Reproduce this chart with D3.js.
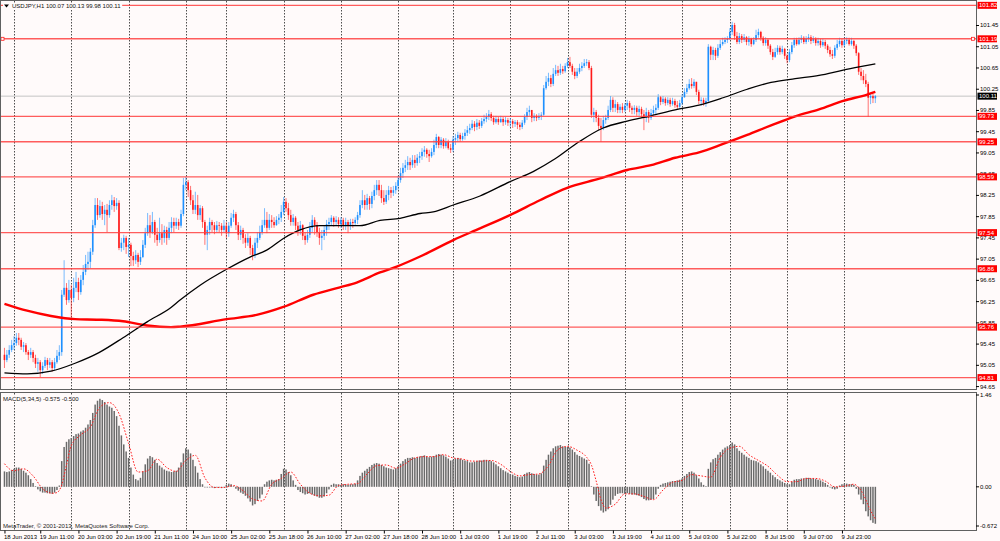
<!DOCTYPE html>
<html><head><meta charset="utf-8">
<script src="https://cdn.jsdelivr.net/npm/d3@7"></script>
<style>
html,body{margin:0;padding:0;background:#fffafa;}
svg{display:block;font-family:"Liberation Sans",Arial,sans-serif;}
</style></head><body>
<svg id="c" width="1000" height="541"></svg>
<script>
// ---------------- DATA (USDJPY H1) ----------------
const firstOpen = 95.24;
const closes = [
95.14,95.24,95.33,95.42,95.46,95.56,95.52,95.39,95.42,95.29,
95.24,95.29,95.18,95.07,95.10,94.95,95.03,95.14,95.05,95.10,
94.99,95.10,95.22,95.29,96.37,96.50,96.27,96.46,96.31,96.50,
96.61,96.42,96.65,96.80,96.95,96.99,97.18,97.68,98.06,97.87,
98.04,97.89,97.97,97.87,98.06,98.15,98.04,98.10,97.25,97.35,
97.44,97.27,97.31,97.10,97.02,97.12,96.99,97.08,97.31,97.53,
97.68,97.55,97.74,97.50,97.40,97.53,97.44,97.59,97.44,97.63,
97.74,97.67,97.74,97.67,97.89,98.44,98.49,98.34,98.15,97.97,
98.06,97.87,98.00,97.74,97.50,97.59,97.74,97.68,97.59,97.68,
97.67,97.59,97.67,97.53,97.67,97.82,97.89,97.68,97.50,97.59,
97.44,97.35,97.44,97.25,97.12,97.35,97.44,97.55,97.68,97.78,
97.63,97.78,97.74,97.68,97.78,97.82,97.93,98.12,98.00,97.87,
97.74,97.82,97.67,97.59,97.68,97.48,97.40,97.50,97.63,97.78,
97.68,97.55,97.44,97.48,97.59,97.70,97.74,97.82,97.74,97.78,
97.70,97.78,97.68,97.74,97.67,97.74,97.72,97.78,97.87,98.06,
98.15,98.06,98.19,98.08,98.23,98.34,98.44,98.34,98.19,98.12,
98.25,98.34,98.29,98.34,98.42,98.53,98.66,98.76,98.81,98.87,
98.81,98.91,98.85,98.95,98.98,99.06,99.10,99.02,98.98,99.06,
99.19,99.34,99.19,99.29,99.17,99.25,99.13,99.10,99.29,99.32,
99.38,99.30,99.36,99.42,99.47,99.51,99.59,99.53,99.61,99.55,
99.64,99.68,99.72,99.77,99.70,99.62,99.68,99.62,99.68,99.62,
99.66,99.61,99.64,99.59,99.62,99.57,99.53,99.61,99.72,99.81,
99.85,99.70,99.74,99.70,99.74,99.76,100.26,100.38,100.45,100.34,
100.53,100.60,100.55,100.62,100.58,100.68,100.75,100.68,100.57,100.49,
100.57,100.64,100.68,100.73,100.75,100.64,99.76,99.81,99.70,99.55,
99.51,99.66,99.70,99.85,100.04,99.89,99.96,99.85,99.91,99.85,
99.93,99.98,99.89,99.85,99.89,99.81,99.87,99.77,99.70,99.81,
99.70,99.79,99.85,99.89,100.09,100.00,100.06,99.98,100.04,99.96,
100.02,99.94,99.91,99.98,100.09,100.19,100.26,100.34,100.30,100.38,
100.19,100.02,100.04,99.98,100.02,101.04,100.89,100.98,100.87,101.02,
101.09,101.13,101.17,101.19,101.32,101.45,101.24,101.13,101.24,101.17,
101.22,101.13,101.19,101.09,101.17,101.26,101.32,101.21,101.11,101.17,
101.06,100.94,100.85,100.94,101.02,100.94,101.00,100.87,100.79,100.94,
101.07,101.17,101.09,101.17,101.21,101.13,101.19,101.22,101.15,101.19,
101.11,101.15,101.07,101.13,101.06,100.98,100.90,100.87,101.02,101.09,
101.15,101.07,101.15,101.17,101.09,101.15,101.06,100.92,100.57,100.49,
100.41,100.34,100.08,100.11,100.07,100.11];
const highs = [
95.37,95.33,95.42,95.52,95.59,95.65,95.65,95.56,95.48,95.46,
95.33,95.37,95.33,95.24,95.18,95.14,95.10,95.20,95.18,95.18,
95.14,95.18,95.33,95.42,96.46,97.02,96.59,96.65,96.55,96.69,
96.80,96.69,96.74,96.93,97.12,97.18,97.25,97.78,98.19,98.19,
98.15,98.12,98.06,98.08,98.15,98.25,98.21,98.19,98.15,97.44,
97.50,97.48,97.44,97.35,97.18,97.21,97.16,97.21,97.40,97.63,
97.91,97.87,97.93,97.78,97.63,97.82,97.70,97.67,97.65,97.74,
97.83,97.82,97.82,97.80,97.97,98.57,98.59,98.53,98.42,98.25,
98.31,98.25,98.06,98.04,97.78,97.67,97.82,97.78,97.74,97.76,
97.74,97.72,97.78,97.74,97.74,97.91,97.97,97.93,97.74,97.67,
97.63,97.51,97.53,97.48,97.31,97.44,97.55,97.67,97.78,98.00,
97.93,97.89,97.87,97.83,97.85,97.89,98.06,98.21,98.19,98.10,
97.97,97.89,97.85,97.74,97.76,97.70,97.55,97.59,97.74,97.87,
97.83,97.74,97.63,97.59,97.67,97.78,97.82,97.87,97.85,97.85,
97.83,97.83,97.82,97.82,97.78,97.80,97.80,97.83,97.93,98.15,
98.34,98.25,98.27,98.23,98.31,98.44,98.53,98.53,98.44,98.34,
98.34,98.42,98.40,98.42,98.49,98.61,98.76,98.85,98.91,98.98,
98.95,99.00,99.00,99.02,99.06,99.13,99.17,99.13,99.10,99.13,
99.29,99.40,99.36,99.34,99.32,99.32,99.29,99.21,99.36,99.40,
99.44,99.42,99.42,99.49,99.55,99.59,99.66,99.64,99.68,99.66,
99.70,99.76,99.79,99.85,99.81,99.74,99.74,99.72,99.74,99.72,
99.72,99.70,99.70,99.68,99.66,99.66,99.62,99.66,99.77,99.89,
99.93,99.85,99.79,99.77,99.79,99.81,100.32,100.49,100.55,100.51,
100.64,100.70,100.68,100.72,100.68,100.73,100.83,100.85,100.72,100.64,
100.64,100.72,100.75,100.81,100.81,100.79,100.68,99.89,99.85,99.76,
99.70,99.74,99.76,99.93,100.11,100.09,100.04,100.00,99.96,99.98,
99.98,100.04,100.02,99.93,99.94,99.93,99.93,99.91,99.85,99.89,
99.85,99.87,99.93,99.96,100.15,100.11,100.11,100.09,100.09,100.08,
100.08,100.06,100.02,100.04,100.15,100.26,100.34,100.43,100.45,100.43,
100.38,100.23,100.09,100.08,100.08,101.09,101.06,101.04,101.02,101.09,
101.17,101.21,101.22,101.24,101.39,101.51,101.49,101.32,101.30,101.28,
101.28,101.24,101.24,101.21,101.22,101.36,101.38,101.34,101.24,101.22,
101.19,101.09,101.00,101.02,101.07,101.06,101.06,101.02,100.90,101.00,
101.13,101.21,101.21,101.22,101.26,101.24,101.24,101.28,101.26,101.24,
101.22,101.21,101.19,101.19,101.17,101.09,101.04,100.98,101.07,101.17,
101.21,101.19,101.21,101.22,101.21,101.21,101.17,101.09,100.94,100.64,
100.60,100.53,100.38,100.17,100.15,100.13];
const lows = [
94.99,95.10,95.18,95.29,95.33,95.41,95.42,95.33,95.29,95.24,
95.14,95.18,95.10,94.99,94.92,94.82,94.88,94.99,94.95,94.99,
94.92,94.95,95.07,95.14,95.22,96.33,96.18,96.22,95.95,96.23,
96.42,96.27,96.37,96.55,96.74,96.84,96.87,97.12,97.63,97.78,
97.82,97.78,97.68,97.55,97.82,97.97,97.93,97.97,97.21,97.18,
97.21,97.14,97.08,96.91,96.91,96.95,96.89,96.93,97.06,97.25,
97.48,97.44,97.51,97.35,97.29,97.35,97.31,97.35,97.31,97.40,
97.53,97.55,97.61,97.59,97.63,97.85,98.34,98.21,98.06,97.89,
97.89,97.78,97.78,97.63,97.31,97.21,97.50,97.55,97.51,97.55,
97.55,97.48,97.55,97.44,97.46,97.63,97.74,97.59,97.40,97.40,
97.33,97.25,97.29,97.12,97.02,97.06,97.25,97.40,97.50,97.63,
97.53,97.59,97.63,97.63,97.67,97.70,97.74,97.87,97.93,97.78,
97.67,97.67,97.59,97.48,97.50,97.40,97.31,97.35,97.44,97.55,
97.50,97.46,97.31,97.21,97.40,97.48,97.59,97.67,97.65,97.67,
97.63,97.63,97.59,97.59,97.53,97.59,97.63,97.67,97.70,97.82,
98.00,97.97,97.97,97.97,98.00,98.15,98.25,98.23,98.10,98.06,
98.08,98.15,98.19,98.23,98.27,98.34,98.48,98.57,98.68,98.72,
98.72,98.76,98.76,98.80,98.85,98.91,98.97,98.95,98.87,98.95,
99.00,99.13,99.13,99.13,99.12,99.13,99.10,99.04,99.06,99.19,
99.25,99.25,99.27,99.29,99.36,99.40,99.47,99.45,99.47,99.49,
99.51,99.59,99.62,99.66,99.64,99.57,99.59,99.57,99.61,99.55,
99.57,99.55,99.53,99.51,99.53,99.49,99.47,99.49,99.57,99.66,
99.74,99.62,99.64,99.64,99.66,99.66,99.74,100.23,100.30,100.28,
100.30,100.49,100.49,100.51,100.53,100.55,100.64,100.64,100.51,100.43,
100.45,100.53,100.58,100.64,100.68,100.60,99.70,99.62,99.62,99.47,
99.25,99.47,99.59,99.66,99.81,99.81,99.81,99.79,99.79,99.79,
99.81,99.85,99.81,99.77,99.77,99.74,99.74,99.70,99.47,99.62,
99.61,99.66,99.72,99.77,99.85,99.94,99.96,99.93,99.94,99.91,
99.93,99.89,99.85,99.89,99.94,100.08,100.15,100.23,100.25,100.26,
100.13,99.96,99.93,99.93,99.91,99.98,100.79,100.79,100.79,100.83,
100.98,101.06,101.09,101.11,101.17,101.26,101.17,101.09,101.09,101.11,
101.13,101.07,101.06,101.04,101.07,101.13,101.21,101.15,101.06,101.06,
101.00,100.89,100.79,100.83,100.89,100.89,100.90,100.81,100.73,100.75,
100.90,101.02,101.06,101.07,101.11,101.09,101.09,101.13,101.09,101.11,
101.06,101.06,101.02,101.04,101.00,100.92,100.85,100.81,100.83,100.98,
101.04,101.02,101.04,101.09,101.06,101.06,101.00,100.87,100.51,100.41,
100.34,100.28,99.72,99.96,99.98,99.98];
const macd = [
0.24,0.23,0.24,0.26,0.28,0.30,0.30,0.28,0.25,0.22,
0.18,0.12,0.06,0.01,-0.04,-0.07,-0.09,-0.09,-0.10,-0.10,
-0.11,-0.09,-0.05,0.02,0.40,0.62,0.70,0.74,0.76,0.79,
0.82,0.83,0.86,0.88,0.92,0.97,1.04,1.15,1.28,1.34,
1.37,1.35,1.32,1.28,1.25,1.23,1.18,1.10,0.95,0.80,
0.66,0.55,0.45,0.30,0.19,0.12,0.10,0.14,0.24,0.35,
0.44,0.48,0.46,0.42,0.37,0.33,0.30,0.27,0.25,0.24,
0.23,0.24,0.25,0.30,0.38,0.52,0.60,0.58,0.52,0.42,
0.32,0.22,0.12,0.04,0.00,-0.01,-0.01,-0.01,-0.02,-0.01,
-0.01,-0.02,-0.01,0.03,0.05,0.04,0.01,-0.03,-0.06,-0.09,
-0.11,-0.14,-0.18,-0.23,-0.29,-0.27,-0.22,-0.18,-0.12,0.04,
0.08,0.10,0.11,0.10,0.11,0.12,0.20,0.28,0.27,0.23,
0.18,0.10,0.03,-0.05,-0.08,-0.10,-0.12,-0.11,-0.10,-0.12,
-0.14,-0.15,-0.17,-0.17,-0.15,-0.10,-0.04,0.03,0.05,0.04,
0.04,0.03,0.04,0.04,0.03,0.04,0.04,0.05,0.10,0.17,
0.22,0.25,0.28,0.31,0.34,0.36,0.37,0.36,0.34,0.32,
0.30,0.29,0.28,0.27,0.29,0.32,0.36,0.40,0.43,0.45,
0.45,0.46,0.45,0.46,0.47,0.48,0.49,0.47,0.46,0.47,
0.48,0.50,0.51,0.50,0.49,0.47,0.44,0.41,0.42,0.44,
0.45,0.44,0.42,0.41,0.40,0.38,0.38,0.39,0.40,0.41,
0.41,0.42,0.42,0.41,0.40,0.38,0.35,0.32,0.29,0.26,
0.24,0.22,0.20,0.19,0.17,0.16,0.15,0.16,0.20,0.22,
0.23,0.21,0.20,0.19,0.19,0.21,0.33,0.42,0.50,0.55,
0.60,0.63,0.64,0.65,0.63,0.62,0.62,0.61,0.58,0.54,
0.50,0.48,0.46,0.44,0.42,0.36,0.01,-0.12,-0.22,-0.30,
-0.37,-0.40,-0.38,-0.35,-0.28,-0.20,-0.14,-0.11,-0.10,-0.10,
-0.11,-0.10,-0.11,-0.12,-0.12,-0.13,-0.14,-0.16,-0.19,-0.21,
-0.21,-0.20,-0.19,-0.12,-0.03,0.03,0.05,0.06,0.07,0.08,
0.09,0.09,0.10,0.11,0.13,0.17,0.20,0.23,0.24,0.22,
0.18,0.13,0.07,0.03,0.01,0.28,0.38,0.43,0.45,0.50,
0.54,0.58,0.61,0.63,0.65,0.69,0.66,0.60,0.56,0.53,
0.50,0.47,0.45,0.42,0.41,0.40,0.38,0.35,0.32,0.28,
0.25,0.22,0.18,0.15,0.12,0.10,0.08,0.06,0.04,0.04,
0.08,0.11,0.12,0.12,0.13,0.13,0.14,0.14,0.13,0.13,
0.12,0.11,0.10,0.08,0.06,0.03,0.00,-0.03,-0.04,-0.03,
0.02,0.04,0.05,0.05,0.04,0.04,0.03,-0.03,-0.12,-0.20,
-0.27,-0.38,-0.46,-0.52,-0.56,-0.575];
const signalBars = [0,2,4,8,12,16,20,22,24,26,28,32,36,40,44,48,52,56,60,64,68,72,76,80,84,88,92,96,100,104,108,112,116,120,124,128,132,136,140,144,148,152,156,160,164,168,172,176,180,184,188,192,196,200,204,208,212,216,220,224,228,232,236,240,244,246,248,250,252,256,260,264,268,272,276,280,284,288,292,296,300,304,308,312,316,320,324,328,332,336,340,344,348,352,356,358,360,362,364,365];
const signalVals = [0.36,0.28,0.25,0.28,0.17,-0.03,-0.10,-0.09,0.03,0.34,0.64,0.81,0.93,1.24,1.31,1.14,0.68,0.23,0.25,0.43,0.30,0.24,0.41,0.49,0.14,-0.01,-0.01,0.02,-0.06,-0.19,-0.22,0.04,0.13,0.23,0.04,-0.10,-0.14,-0.13,0.02,0.04,0.05,0.20,0.33,0.34,0.29,0.36,0.45,0.47,0.47,0.50,0.45,0.43,0.40,0.40,0.41,0.35,0.24,0.17,0.19,0.20,0.33,0.58,0.63,0.57,0.46,0.34,0.09,-0.20,-0.33,-0.27,-0.11,-0.11,-0.15,-0.20,-0.05,0.07,0.10,0.19,0.17,0.15,0.46,0.60,0.63,0.50,0.41,0.32,0.18,0.08,0.08,0.13,0.13,0.09,0.00,0.01,0.04,-0.01,-0.12,-0.29,-0.44,-0.50];
// black moving average (fast)
const fastBars = [0,9.5,19.5,29.6,39.6,49.7,59.8,69.8,73.6,82,93.1,102.9,109.9,116.9,123.9,132.2,140.6,149,157.4,165.8,174.2,179.7,188.1,199.3,211.9,221.6,230.8,240.8,250.9,261,271,281.1,291.1,301.2,311.3,321.3,331.4,341.4,351.5,361.6,365];
const fastVals = [94.90,94.88,94.93,95.08,95.28,95.56,95.86,96.13,96.27,96.55,96.85,97.08,97.21,97.43,97.59,97.67,97.67,97.67,97.77,97.81,97.90,97.93,98.06,98.23,98.50,98.69,98.93,99.25,99.51,99.64,99.74,99.85,99.94,100.08,100.24,100.37,100.44,100.50,100.60,100.69,100.72];
// red moving average (slow)
const slowBars = [0,9.5,19.5,29.6,39.6,49.7,59.8,69.8,73.6,93.1,105.7,116.9,129.4,140.6,147.6,157.4,164.4,174.2,188.1,199.3,211.9,224.4,235.6,249.6,261,271,281.1,291.1,301.2,311.3,321.3,331.4,341.4,351.5,361.6,365];
const slowVals = [96.20,96.07,95.97,95.91,95.90,95.87,95.79,95.76,95.77,95.91,95.99,96.14,96.37,96.51,96.60,96.79,96.90,97.09,97.40,97.62,97.87,98.15,98.38,98.56,98.72,98.81,98.95,99.05,99.21,99.38,99.56,99.73,99.86,100.02,100.14,100.19];
const levels = [101.82,101.19,99.73,99.25,98.59,97.54,96.86,95.76,94.81];
const bidPrice = 100.11;
const priceTicks = [101.45,101.05,100.65,100.25,99.85,99.45,99.05,98.65,98.25,97.85,97.45,97.05,96.65,96.25,95.85,95.45,95.05,94.65];
const macdTicks = [1.46,0,-0.672];
const macdTickLabels = ["1.46","0.00","-0.672"];
const dayBars = [4,28,52,76,93,117,141,165,188,212,236,260,284,304,328,352];
const xLabelBars = [0,15,31,47,63,79,95,111,127,143,159,175,191,207,223,239,255,271,287,303,319,335,351];
const xLabelTexts = ["18 Jun 2013","19 Jun 11:00","20 Jun 03:00","20 Jun 19:00","21 Jun 11:00","24 Jun 10:00","25 Jun 02:00","25 Jun 18:00","26 Jun 10:00","27 Jun 02:00","27 Jun 18:00","28 Jun 10:00","1 Jul 03:00","1 Jul 19:00","2 Jul 11:00","3 Jul 03:00","3 Jul 19:00","4 Jul 11:00","5 Jul 03:00","5 Jul 22:00","8 Jul 15:00","9 Jul 07:00","9 Jul 23:00"];
const titleText = "USDJPY,H1  100.07 100.13 99.98 100.11";
const macdTitle = "MACD(5,34,5) -0.575 -0.500";
const copyright = "MetaTrader, \u00A9 2001-2013, MetaQuotes Software Corp.";

// ---------------- DRAWING ----------------
const W = 1000, H = 541, RIGHT = 976;
const P_TOP = 1, P_BOT = 389, M_TOP = 393, M_BOT = 530;
const svg = d3.select("#c");
const x = d3.scaleLinear().domain([0, 407]).range([4.46, 975.56]);
const y = d3.scaleLinear().domain([94.595, 101.902]).range([P_BOT, P_TOP]);
const ym = d3.scaleLinear().domain([-0.672, 1.46]).range([M_BOT, M_TOP]);
const FS = 6;

svg.append("rect").attr("width", W).attr("height", H).attr("fill", "#fffafa");

const defs = svg.append("defs");
defs.append("clipPath").attr("id", "cp").append("rect").attr("x", 1).attr("y", 1).attr("width", RIGHT - 1).attr("height", P_BOT - 1);
defs.append("clipPath").attr("id", "cm").append("rect").attr("x", 1).attr("y", M_TOP).attr("width", RIGHT - 1).attr("height", M_BOT - M_TOP);

const gp = svg.append("g").attr("clip-path", "url(#cp)");
const gm = svg.append("g").attr("clip-path", "url(#cm)");

// day separators
[[gp, P_TOP, P_BOT], [gm, M_TOP, M_BOT]].forEach(([g, t, b]) => {
  g.selectAll(null).data(dayBars).enter().append("line")
    .attr("x1", d => Math.round(x(d)) + 0.5).attr("x2", d => Math.round(x(d)) + 0.5)
    .attr("y1", t).attr("y2", b)
    .attr("stroke", "#3a3a3a").attr("stroke-width", 0.9).attr("stroke-dasharray", "1.5,1.5");
});

// bid line
gp.append("line").attr("x1", 0).attr("x2", RIGHT).attr("y1", y(bidPrice)).attr("y2", y(bidPrice))
  .attr("stroke", "#c4c4c4").attr("stroke-width", 1);

// candles
const bars = closes.map((c, i) => ({ i, o: i ? closes[i - 1] : firstOpen, c, h: highs[i], l: lows[i] }));
const col = d => d.c >= d.o ? "#1e90ff" : "#ff1a1a";
gp.selectAll(".wk").data(bars).enter().append("line")
  .attr("x1", d => x(d.i)).attr("x2", d => x(d.i))
  .attr("y1", d => y(Math.max(d.h, d.o, d.c))).attr("y2", d => y(Math.min(d.l, d.o, d.c)))
  .attr("stroke", col).attr("stroke-width", 0.8).attr("stroke-opacity", 0.75);
gp.selectAll(".bd").data(bars).enter().append("rect")
  .attr("x", d => x(d.i) - 0.8).attr("width", 1.6)
  .attr("y", d => y(Math.max(d.o, d.c)))
  .attr("height", d => Math.max(0.7, Math.abs(y(d.o) - y(d.c))))
  .attr("fill", col);

// moving averages
const lineOf = (bs) => d3.line().x((d, i) => x(bs[i])).y(d => y(d)).curve(d3.curveMonotoneX);
gp.append("path").attr("d", lineOf(slowBars)(slowVals)).attr("fill", "none").attr("stroke", "#ff0000").attr("stroke-width", 2.4);
gp.append("path").attr("d", lineOf(fastBars)(fastVals)).attr("fill", "none").attr("stroke", "#000").attr("stroke-width", 1.3);

// horizontal levels
gp.selectAll(".lv").data(levels).enter().append("line")
  .attr("x1", 0).attr("x2", RIGHT).attr("y1", d => y(d)).attr("y2", d => y(d))
  .attr("stroke", "#ff4040").attr("stroke-width", 1.4).attr("stroke-opacity", 0.85);
// selected object handles on 101.19
[2.5, RIGHT - 3].forEach(px => {
  svg.append("rect").attr("x", px - 1.5).attr("y", y(101.19) - 1.5).attr("width", 3).attr("height", 3)
    .attr("fill", "#fffafa").attr("stroke", "#ff2020").attr("stroke-width", 0.8);
});

// MACD histogram
gm.selectAll(".mb").data(macd).enter().append("rect")
  .attr("x", (d, i) => x(i) - 0.75).attr("width", 1.5)
  .attr("y", d => ym(Math.max(0, d)))
  .attr("height", d => Math.max(0.6, Math.abs(ym(d) - ym(0))))
  .attr("fill", "#6a6a6a");
const sigLine = d3.line().x((d, i) => x(signalBars[i])).y(d => ym(d)).curve(d3.curveMonotoneX);
gm.append("path").attr("d", sigLine(signalVals)).attr("fill", "none")
  .attr("stroke", "#ff2020").attr("stroke-width", 1).attr("stroke-dasharray", "1.6,1.6");

// frames
svg.append("rect").attr("x", 0.5).attr("y", 0.5).attr("width", RIGHT).attr("height", P_BOT)
  .attr("fill", "none").attr("stroke", "#606060").attr("stroke-width", 1);
svg.append("rect").attr("x", 0.5).attr("y", 392.5).attr("width", RIGHT).attr("height", M_BOT - 392)
  .attr("fill", "none").attr("stroke", "#606060").attr("stroke-width", 1);

// price axis
const pAxis = svg.append("g").attr("transform", `translate(${RIGHT},0)`)
  .call(d3.axisRight(y).tickValues(priceTicks).tickSize(3).tickPadding(1).tickFormat(d3.format(".2f")));
pAxis.select(".domain").remove();
pAxis.selectAll("text").attr("font-size", FS).attr("fill", "#000").attr("font-family", "Liberation Sans, Arial, sans-serif");
pAxis.selectAll("line").attr("stroke", "#000");

// level labels
const lvG = svg.append("g");
levels.forEach(l => {
  lvG.append("rect").attr("x", RIGHT + 1.5).attr("y", y(l) - 3.5).attr("width", 19.5).attr("height", 7).attr("fill", "#ff0000");
  lvG.append("text").attr("x", RIGHT + 3).attr("y", y(l)).attr("dy", "0.35em").attr("font-size", FS)
    .attr("fill", "#fff").text(l.toFixed(2));
});
lvG.append("rect").attr("x", RIGHT + 1.5).attr("y", y(bidPrice) - 3.5).attr("width", 19.5).attr("height", 7).attr("fill", "#000");
lvG.append("text").attr("x", RIGHT + 3).attr("y", y(bidPrice)).attr("dy", "0.35em").attr("font-size", FS)
  .attr("fill", "#fff").text(bidPrice.toFixed(2));

// MACD axis
const macdOffsets = [2, 0, -4];
macdTicks.forEach((v, i) => {
  svg.append("line").attr("x1", RIGHT).attr("x2", RIGHT + 3).attr("y1", ym(v) + macdOffsets[i]).attr("y2", ym(v) + macdOffsets[i]).attr("stroke", "#000");
  svg.append("text").attr("x", RIGHT + 4).attr("y", ym(v) + macdOffsets[i]).attr("dy", "0.35em")
    .attr("font-size", FS).attr("fill", "#000").text(macdTickLabels[i]);
});

// time axis
const tAxis = svg.append("g").attr("transform", `translate(0,${M_BOT + 0.5})`)
  .call(d3.axisBottom(x).tickValues(xLabelBars).tickSize(3).tickFormat((d, i) => xLabelTexts[i]));
tAxis.select(".domain").remove();
tAxis.selectAll("line").attr("stroke", "#000");
tAxis.selectAll("text").attr("text-anchor", "start").attr("x", -1).attr("y", 4)
  .attr("font-size", FS).attr("fill", "#000").attr("font-family", "Liberation Sans, Arial, sans-serif");

// titles
function label(tx, ty, str) {
  const g = svg.append("g");
  const bg = g.append("rect").attr("fill", "#fffafa");
  const t = g.append("text").attr("x", tx).attr("y", ty).attr("dy", "0.35em").attr("font-size", FS).attr("fill", "#111").text(str);
  const b = t.node().getBBox();
  bg.attr("x", b.x - 1).attr("y", b.y).attr("width", b.width + 2).attr("height", b.height);
  return g;
}
const tg = label(12, 6, titleText);
tg.insert("rect", "text").attr("x", 3).attr("y", 2).attr("width", 9).attr("height", 8).attr("fill", "#fffafa");
tg.append("path").attr("d", "M4,4.5 L9,4.5 L6.5,7.5 Z").attr("fill", "#000");
label(3, 399, macdTitle);
svg.append("text").attr("x", 3).attr("y", 526).attr("dy", "0.35em").attr("font-size", FS).attr("fill", "#222").text(copyright);
</script>
</body></html>
